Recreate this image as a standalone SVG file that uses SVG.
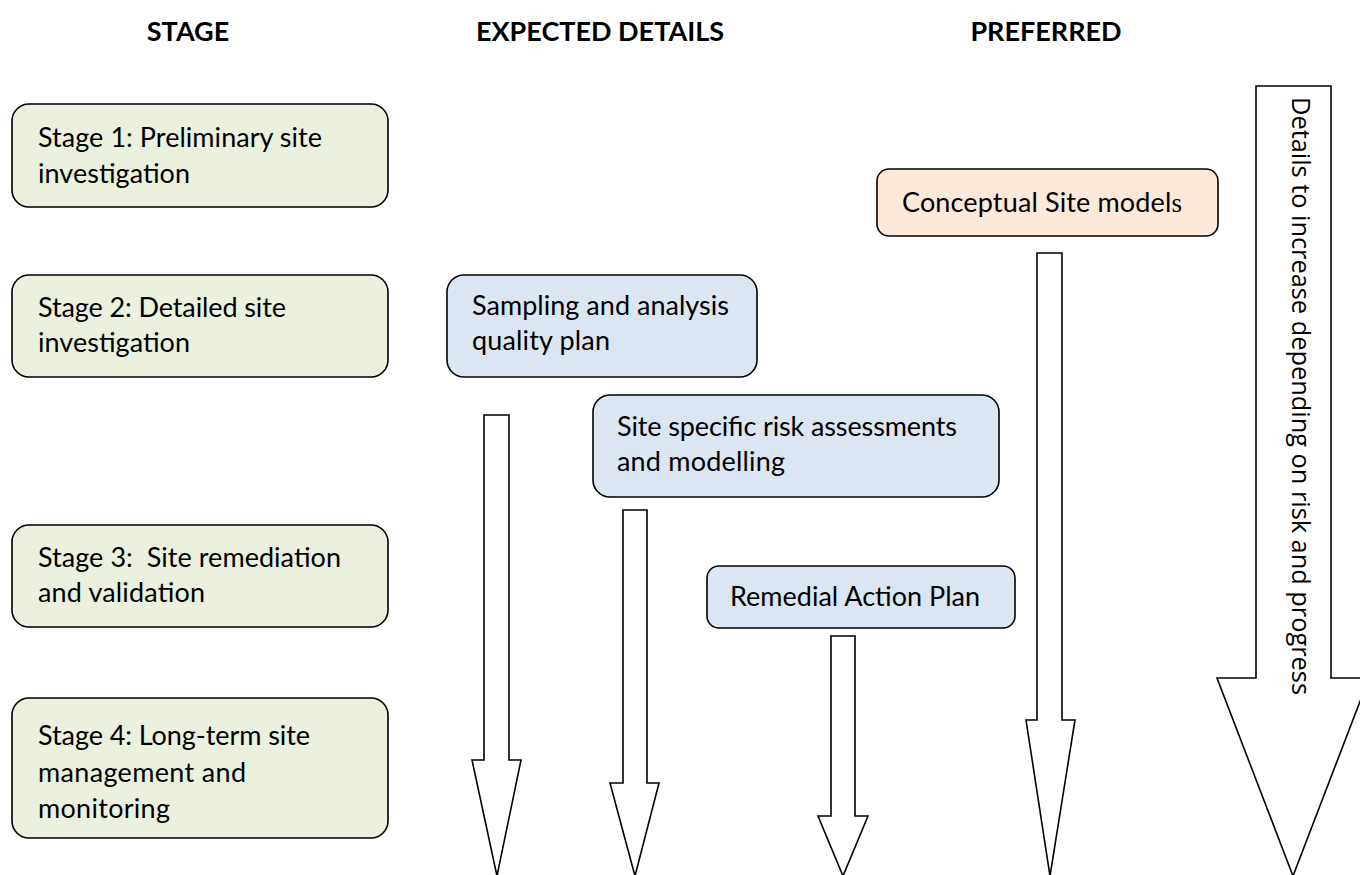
<svg xmlns="http://www.w3.org/2000/svg" width="1360" height="875" viewBox="0 0 1360 875">
  <style>
    .hdr { font-family: Lato, "Liberation Sans", sans-serif; font-weight: bold; font-size: 27px; fill: #000; text-anchor: middle; }
    .lbl { font-family: Lato, "Liberation Sans", sans-serif; font-size: 27px; fill: #000; }
    .side { font-family: "Open Sans", "Noto Sans", sans-serif; font-size: 25.4px; fill: #000; }
    .box { stroke: #000; stroke-width: 1.6; }
    .stage { fill: #ebf1de; }
    .detail { fill: #dce6f2; }
    .pref { fill: #fde9d9; }
    .arrow { fill: #fff; stroke: #000; stroke-width: 1.6; stroke-linejoin: miter; }
  </style>
  <rect width="1360" height="875" fill="#fff"/>

  <!-- column headings -->
  <g id="headings">
    <text class="hdr" x="188" y="41">STAGE</text>
    <text class="hdr" x="600" y="41">EXPECTED DETAILS</text>
    <text class="hdr" x="1046" y="41">PREFERRED</text>
  </g>

  <!-- block arrows -->
  <g id="connectors">
    <polygon class="arrow" points="484,415 509,415 509,760 521,760 497,876 472,760 484,760"/>
    <polygon class="arrow" points="623,510 647,510 647,783 659,783 635,876 610,783 623,783"/>
    <polygon class="arrow" points="831,636 855,636 855,816 868,816 843,876 818,816 831,816"/>
    <polygon class="arrow" points="1037,253 1062,253 1062,720 1075,720 1050,876 1026,720 1037,720"/>
    <polygon class="arrow" points="1256,86 1331,86 1331,678 1369,678 1293,876 1217,678 1256,678"/>
    <text class="side" transform="translate(1292,97) rotate(90)" textLength="598">Details to increase depending on risk and progress</text>
  </g>

  <!-- stage boxes -->
  <g id="stage1">
    <rect class="box stage" x="12" y="104" width="376" height="103" rx="17"/>
    <text class="lbl" x="38" y="147" textLength="284">Stage 1: Preliminary site</text>
    <text class="lbl" x="38" y="183" textLength="152">investigation</text>
  </g>
  <g id="stage2">
    <rect class="box stage" x="12" y="275" width="376" height="102" rx="17"/>
    <text class="lbl" x="38" y="317" textLength="248">Stage 2: Detailed site</text>
    <text class="lbl" x="38" y="352" textLength="152">investigation</text>
  </g>
  <g id="stage3">
    <rect class="box stage" x="12" y="525" width="376" height="102" rx="17"/>
    <text class="lbl" x="38" y="567" textLength="303" xml:space="preserve">Stage 3:  Site remediation</text>
    <text class="lbl" x="38" y="602" textLength="167">and validation</text>
  </g>
  <g id="stage4">
    <rect class="box stage" x="12" y="698" width="376" height="140" rx="17"/>
    <text class="lbl" x="38" y="745" textLength="272">Stage 4: Long-term site</text>
    <text class="lbl" x="38" y="782" textLength="208">management and</text>
    <text class="lbl" x="38" y="818" textLength="132">monitoring</text>
  </g>

  <!-- expected details -->
  <g id="sampling">
    <rect class="box detail" x="447" y="275" width="310" height="102" rx="17"/>
    <text class="lbl" x="472" y="315" textLength="257">Sampling and analysis</text>
    <text class="lbl" x="472" y="350" textLength="138">quality plan</text>
  </g>
  <g id="risk">
    <rect class="box detail" x="593" y="395" width="406" height="102" rx="17"/>
    <text class="lbl" x="617" y="436" textLength="340">Site specific risk assessments</text>
    <text class="lbl" x="617" y="471" textLength="168">and modelling</text>
  </g>
  <g id="remedial">
    <rect class="box detail" x="707" y="566" width="308" height="62" rx="12"/>
    <text class="lbl" x="730" y="606" textLength="250">Remedial Action Plan</text>
  </g>

  <!-- preferred -->
  <g id="conceptual">
    <rect class="box pref" x="877" y="169" width="341" height="67" rx="12"/>
    <text class="lbl" x="902" y="212" textLength="280">Conceptual Site model<tspan font-family="'Liberation Serif', serif">s</tspan></text>
  </g>
</svg>
